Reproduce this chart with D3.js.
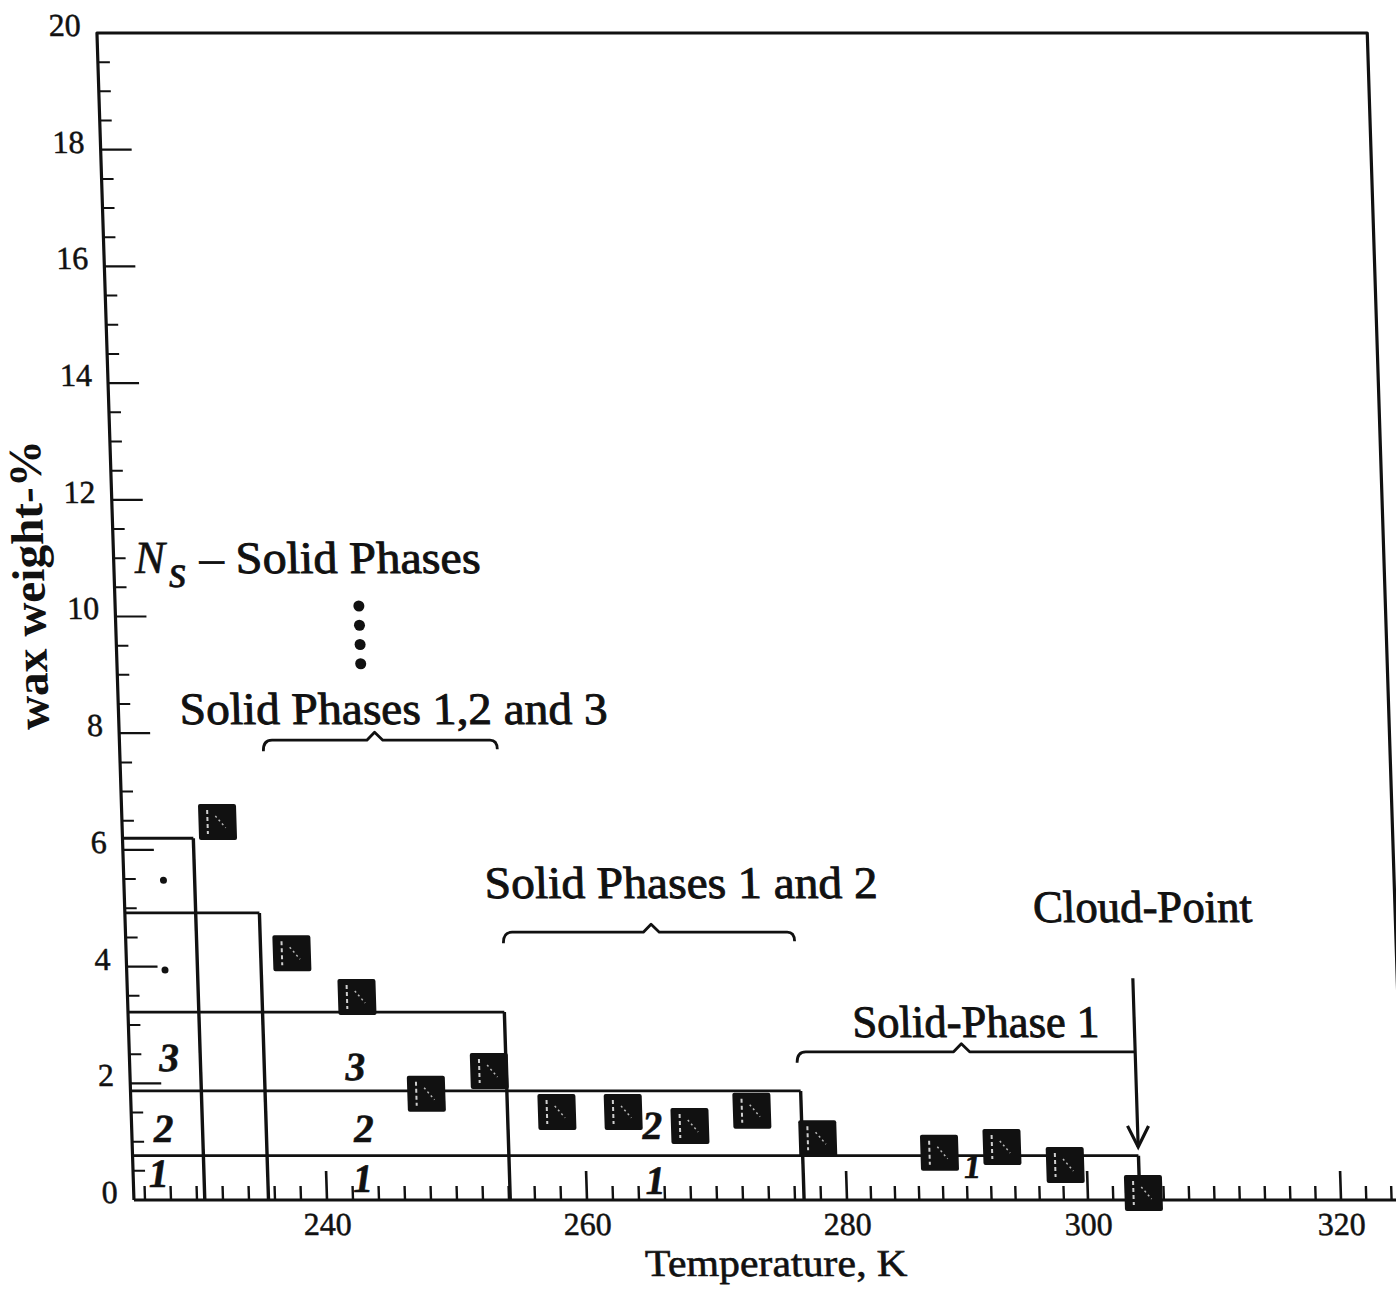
<!DOCTYPE html>
<html>
<head>
<meta charset="utf-8">
<script src="https://cdn.jsdelivr.net/npm/d3@7"></script>
<style>
  html, body { margin: 0; padding: 0; background: #fff; }
  svg { display: block; }
  text { paint-order: stroke; }
</style>
</head>
<body>
<script>
// ---------------- data ----------------
// measured points: temperature (K) and wax weight-%
const temps = [232.5, 237.9, 242.8, 247.9, 252.8, 257.9, 263.0, 268.1, 272.9, 277.9, 287.8, 293.0, 298.2, 304.4];
const waxWt = [6.48, 4.23, 3.48, 1.82, 2.21, 1.51, 1.51, 1.27, 1.53, 1.06, 0.81, 0.91, 0.60, 0.12];

// phase boundaries (temperature where a solid phase vanishes) and top level of the step
const phaseT   = [230.6, 235.5, 254.1, 276.7, 304.1];
const phaseTop = [6.20, 4.92, 3.22, 1.87, 0.76];

// phase-number labels inside the staircase
const numText = ["1", "2", "3", "3", "2", "1", "2", "1", "1"];
const numT    = [227.1, 227.6, 228.2, 242.5, 243.0, 242.8, 265.2, 265.3, 290.5];
const numWt   = [0.45, 1.22, 2.45, 2.28, 1.22, 0.36, 1.27, 0.33, 0.57];

// small dots in the first column
const dotT  = [228.2, 228.1];
const dotWt = [5.48, 3.94];

// vertical ellipsis
const ellT  = 243.9;
const ellWt = [10.18, 9.85, 9.52, 9.19];

// braces
const braceFrom = [236.2, 254.2, 276.5];
const braceTo   = [254.2, 276.6, 304.1];
const bracePeak = [244.8, 265.6, 289.9];
const braceWt   = [7.88, 4.59, 2.54];

// annotation texts
const annText = ["Solid Phases 1,2 and 3", "Solid Phases 1 and 2", "Cloud-Point", "Solid-Phase 1"];
const annT    = [229.86, 252.9, 296.2, 280.9];
const annWt   = [8.16, 5.18, 4.76, 2.79];

// cloud point arrow
const cloudT = 304.1;
const arrowFromWt = 3.80, arrowToWt = 0.91;

// axes
const xTickLabels = [240, 260, 280, 300, 320];
const yTickLabels = [0, 2, 4, 6, 8, 10, 12, 14, 16, 18, 20];
const xMin = 225.15, xMax = 325.0;

// ---------------- layout ----------------
const W = 1396, H = 1294;
const FONT = "'Liberation Serif','Times New Roman',serif";

// scanned axis is slightly non-uniform: polylinear calibration
const x = d3.scaleLinear().domain(xTickLabels).range([327, 587, 847, 1088, 1341]);
const y = d3.scaleLinear().domain([0, 20]).range([1200, 33]);
const x0 = x(xMin), x1 = x(xMax), y0 = y(0), yTop = y(20);

const svg = d3.select("body").append("svg").attr("width", W).attr("height", H)
  .style("background", "#fff");

// the scanned figure is sheared a little: left edge leans
const skewDeg = Math.atan(0.0317) * 180 / Math.PI;
const g = svg.append("g")
  .attr("transform", `translate(0,${y0}) skewX(${skewDeg}) translate(0,${-y0})`);

const ink = "#111";

// frame
g.append("path")
  .attr("d", `M${x0},${y0} L${x0},${yTop} L${x1},${yTop} L${x1},${y0} L${x0},${y0}`)
  .attr("fill", "none").attr("stroke", ink).attr("stroke-width", 3.2)
  .attr("stroke-linejoin", "round");

// y ticks (inward)
const yMinor = d3.range(0.5, 20, 0.5).filter(v => v % 2 !== 0);
g.selectAll(".ymin").data(yMinor).join("line")
  .attr("x1", x0).attr("x2", x0 + 12)
  .attr("y1", d => y(d)).attr("y2", d => y(d))
  .attr("stroke", ink).attr("stroke-width", 2);
g.selectAll(".ymaj").data(yTickLabels.filter(v => v > 0 && v < 20)).join("line")
  .attr("x1", x0).attr("x2", x0 + 31)
  .attr("y1", d => y(d)).attr("y2", d => y(d))
  .attr("stroke", ink).attr("stroke-width", 2.2);
g.selectAll(".ylab").data(yTickLabels).join("text")
  .attr("x", x0 - 16).attr("y", d => y(d) + 3)
  .attr("text-anchor", "end")
  .attr("font-family", FONT).attr("font-size", 32).attr("fill", ink)
  .attr("stroke", ink).attr("stroke-width", 0.5)
  .text(d => d);

// x ticks (inward)
const xMinor = d3.range(226, 325, 2).filter(v => v % 20 !== 0);
g.selectAll(".xmin").data(xMinor).join("line")
  .attr("x1", d => x(d)).attr("x2", d => x(d))
  .attr("y1", y0).attr("y2", y0 - 14)
  .attr("stroke", ink).attr("stroke-width", 2.4);
g.selectAll(".xmaj").data(xTickLabels).join("line")
  .attr("x1", d => x(d)).attr("x2", d => x(d))
  .attr("y1", y0).attr("y2", y0 - 29)
  .attr("stroke", ink).attr("stroke-width", 2.6);
g.selectAll(".xlab").data(xTickLabels).join("text")
  .attr("x", d => x(d)).attr("y", y0 + 35)
  .attr("text-anchor", "middle")
  .attr("font-family", FONT).attr("font-size", 32).attr("fill", ink)
  .attr("stroke", ink).attr("stroke-width", 0.5)
  .text(d => d);

// axis titles
g.append("text")
  .attr("x", (x0 + x1) / 2 + 5).attr("y", y0 + 76)
  .attr("text-anchor", "middle")
  .attr("font-family", FONT).attr("font-size", 38).attr("fill", ink)
  .attr("stroke", ink).attr("stroke-width", 0.6)
  .attr("textLength", 262).attr("lengthAdjust", "spacingAndGlyphs")
  .text("Temperature, K");

g.append("text")
  .attr("transform", `translate(${x0 - 70},585) rotate(-90)`)
  .attr("text-anchor", "middle")
  .attr("font-family", FONT).attr("font-size", 46).attr("font-weight", "bold").attr("fill", ink)
  .attr("textLength", 290).attr("lengthAdjust", "spacingAndGlyphs")
  .text("wax weight-%");

// phase staircase
phaseT.forEach((t, i) => {
  g.append("line")
    .attr("x1", x0).attr("x2", x(t))
    .attr("y1", y(phaseTop[i])).attr("y2", y(phaseTop[i]))
    .attr("stroke", ink).attr("stroke-width", 2.8);
  g.append("line")
    .attr("x1", x(t)).attr("x2", x(t))
    .attr("y1", y0).attr("y2", y(phaseTop[i]))
    .attr("stroke", ink).attr("stroke-width", 3.4);
});

// phase numbers
g.selectAll(".num").data(numText).join("text")
  .attr("x", (d, i) => x(numT[i])).attr("y", (d, i) => y(numWt[i]))
  .attr("text-anchor", "middle").attr("dominant-baseline", "central")
  .attr("font-family", FONT).attr("font-style", "italic").attr("font-weight", "bold")
  .attr("font-size", (d, i) => i === 8 ? 34 : 40).attr("fill", ink)
  .attr("stroke", ink).attr("stroke-width", 0.6)
  .text(d => d);

// small dots
g.selectAll(".sdot").data(dotT).join("circle")
  .attr("cx", d => x(d)).attr("cy", (d, i) => y(dotWt[i])).attr("r", 3.5)
  .attr("fill", ink);

// ellipsis
g.selectAll(".ell").data(ellWt).join("circle")
  .attr("cx", x(ellT)).attr("cy", d => y(d)).attr("r", 5.5).attr("fill", ink);

// braces
braceFrom.forEach((a, i) => {
  const xa = x(a), xb = x(braceTo[i]), xm = x(bracePeak[i]), yy = y(braceWt[i]);
  const endDown = i < 2;
  let d = `M${xa},${yy + 11} Q${xa},${yy} ${xa + 9},${yy} L${xm - 8},${yy} L${xm},${yy - 8} L${xm + 8},${yy}`;
  if (endDown) d += ` L${xb - 7},${yy} Q${xb},${yy} ${xb},${yy + 9}`;
  else d += ` L${xb},${yy}`;
  g.append("path").attr("d", d).attr("fill", "none")
    .attr("stroke", ink).attr("stroke-width", 2.8).attr("stroke-linejoin", "round");
});

// annotation texts
const annLen = [428, 393, 219, 247];
g.selectAll(".ann").data(annText).join("text")
  .attr("x", (d, i) => x(annT[i])).attr("y", (d, i) => y(annWt[i]))
  .attr("font-family", FONT).attr("font-size", 45).attr("fill", ink)
  .attr("stroke", ink).attr("stroke-width", 0.9)
  .attr("textLength", (d, i) => annLen[i]).attr("lengthAdjust", "spacingAndGlyphs")
  .text(d => d);

// N_s - Solid Phases
const ns = g.append("text")
  .attr("x", x(226.76)).attr("y", y(10.75))
  .attr("font-family", FONT).attr("font-size", 46).attr("fill", ink)
  .attr("stroke", ink).attr("stroke-width", 0.6);
ns.append("tspan").attr("font-style", "italic").text("N");
ns.append("tspan").attr("font-style", "italic").attr("dx", 3).attr("dy", 14).text("s");
g.append("text")
  .attr("x", x(231.76)).attr("y", y(10.75))
  .attr("font-family", FONT).attr("font-size", 45).attr("fill", ink)
  .attr("stroke", ink).attr("stroke-width", 0.9)
  .attr("textLength", 281).attr("lengthAdjust", "spacingAndGlyphs")
  .text("\u2013 Solid Phases");

// cloud point arrow
const ax = x(cloudT), ay1 = y(arrowFromWt), ay2 = y(arrowToWt);
g.append("line").attr("x1", ax).attr("x2", ax).attr("y1", ay1).attr("y2", ay2)
  .attr("stroke", ink).attr("stroke-width", 3.2);
g.append("path")
  .attr("d", `M${ax - 10},${ay2 - 21} L${ax},${ay2} L${ax + 11},${ay2 - 21}`)
  .attr("fill", "none").attr("stroke", ink).attr("stroke-width", 3.2);

// data squares
const sq = g.selectAll(".pt").data(temps).join("g")
  .attr("transform", (d, i) => `translate(${x(d)},${y(waxWt[i])})`);
sq.append("rect").attr("x", -19).attr("y", -18).attr("width", 38).attr("height", 36)
  .attr("rx", 2).attr("fill", ink);
sq.append("line").attr("x1", -10).attr("x2", -10).attr("y1", -12).attr("y2", 12)
  .attr("stroke", "#fff").attr("stroke-width", 2).attr("stroke-dasharray", "4,3").attr("opacity", 0.8);
sq.append("line").attr("x1", -2).attr("x2", 8).attr("y1", -6).attr("y2", 6)
  .attr("stroke", "#fff").attr("stroke-width", 1.5).attr("stroke-dasharray", "2,3").attr("opacity", 0.7);
</script>
</body>
</html>
